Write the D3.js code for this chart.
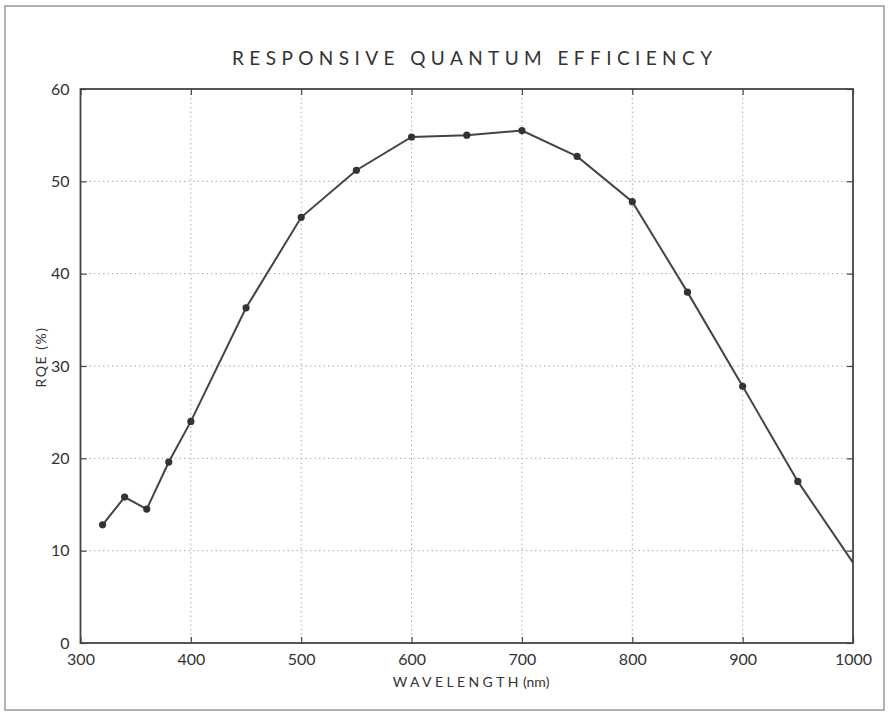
<!DOCTYPE html>
<html>
<head>
<meta charset="utf-8">
<script src="https://cdn.jsdelivr.net/npm/d3@7"></script>
<style>
    body { margin: 0; background: #fff; }
    svg text { font-family: Lato, "Open Sans", sans-serif; fill: #333; }
</style>
</head>
<body>
<div id="chart"></div>
<script>
// values
var wavelength = [320, 340, 360, 380, 400, 450, 500, 550, 600, 650, 700, 750, 800, 850, 900, 950, 1000];
var rqe = [12.8, 15.8, 14.5, 19.6, 24.0, 36.3, 46.1, 51.2, 54.8, 55.0, 55.5, 52.7, 47.8, 38.0, 27.8, 17.5, 8.7];
var xTicks = [300, 400, 500, 600, 700, 800, 900, 1000];
var yTicks = [0, 10, 20, 30, 40, 50, 60];

var width = 888, height = 718;
var plot = {left: 80.5, right: 853, top: 89, bottom: 643};

var svg = d3.select("#chart")
            .append("svg")
                .attr("width", width)
                .attr("height", height);

// outer frame of the figure
svg.append("rect")
    .attr("x", 5).attr("y", 6)
    .attr("width", 879).attr("height", 704)
    .attr("fill", "none")
    .attr("stroke", "#999")
    .attr("stroke-width", 1.5);

var x = d3.scaleLinear().domain([300, 1000]).range([plot.left, plot.right]);
var y = d3.scaleLinear().domain([0, 60]).range([plot.bottom, plot.top]);

// dotted grid
var grid = svg.append("g")
    .attr("stroke", "#aaa")
    .attr("stroke-width", 1)
    .attr("stroke-dasharray", "1.5,3");
grid.selectAll(".vgrid")
    .data(xTicks.slice(1, -1))
    .enter()
    .append("line")
        .attr("x1", function(d) { return x(d); })
        .attr("x2", function(d) { return x(d); })
        .attr("y1", plot.top)
        .attr("y2", plot.bottom);
grid.selectAll(".hgrid")
    .data(yTicks.slice(1, -1))
    .enter()
    .append("line")
        .attr("x1", plot.left)
        .attr("x2", plot.right)
        .attr("y1", function(d) { return y(d); })
        .attr("y2", function(d) { return y(d); });

// axes, ticks pointing inward on all four sides
function styleAxis(g) {
    g.select(".domain").remove();
    g.selectAll(".tick line").attr("stroke", "#444").attr("stroke-width", 1.2);
    g.selectAll(".tick text").attr("font-size", "16px").attr("fill", "#333");
}

svg.append("g")
    .attr("transform", "translate(0," + plot.bottom + ")")
    .call(d3.axisBottom(x).tickValues(xTicks).tickSize(-6).tickPadding(12).tickFormat(d3.format("d")))
    .call(styleAxis)
    .selectAll(".tick text").attr("dy", "0.6em");

svg.append("g")
    .attr("transform", "translate(0," + plot.top + ")")
    .call(d3.axisTop(x).tickValues(xTicks).tickSize(-6).tickFormat(""))
    .call(styleAxis);

svg.append("g")
    .attr("transform", "translate(" + plot.left + ",0)")
    .call(d3.axisLeft(y).tickValues(yTicks).tickSize(-6).tickPadding(11))
    .call(styleAxis);

svg.append("g")
    .attr("transform", "translate(" + plot.right + ",0)")
    .call(d3.axisRight(y).tickValues(yTicks).tickSize(-6).tickFormat(""))
    .call(styleAxis);

// plot box
svg.append("rect")
    .attr("x", plot.left).attr("y", plot.top)
    .attr("width", plot.right - plot.left)
    .attr("height", plot.bottom - plot.top)
    .attr("fill", "none")
    .attr("stroke", "#444")
    .attr("stroke-width", 1.8);

// curve
var points = wavelength.map(function(w, i) { return {x: w, y: rqe[i]}; });

svg.append("path")
    .datum(points)
    .attr("fill", "none")
    .attr("stroke", "#444")
    .attr("stroke-width", 2)
    .attr("d", d3.line()
        .x(function(d) { return x(d.x); })
        .y(function(d) { return y(d.y); }));

// measured points (the curve simply runs on to the 1000 nm edge)
svg.append("g")
    .selectAll("circle")
    .data(points.filter(function(d) { return d.x < 1000; }))
    .enter()
    .append("circle")
        .attr("cx", function(d) { return x(d.x); })
        .attr("cy", function(d) { return y(d.y); })
        .attr("r", 3.6)
        .attr("fill", "#333");

// titles
svg.append("text")
    .attr("x", 472)
    .attr("y", 65)
    .attr("text-anchor", "middle")
    .attr("font-size", "19px")
    .attr("textLength", 480)
    .attr("lengthAdjust", "spacing")
    .text("RESPONSIVE QUANTUM EFFICIENCY");

var xlabel = svg.append("text")
    .attr("x", 471)
    .attr("y", 687)
    .attr("text-anchor", "middle")
    .attr("font-size", "14px");
xlabel.append("tspan").attr("letter-spacing", "3.4px").text("WAVELENGTH");
xlabel.append("tspan").attr("dx", 1).text("(nm)");

svg.append("text")
    .attr("transform", "translate(46,357) rotate(-90)")
    .attr("text-anchor", "middle")
    .attr("font-size", "14px")
    .attr("letter-spacing", "1.5px")
    .text("RQE (%)");
</script>
</body>
</html>
